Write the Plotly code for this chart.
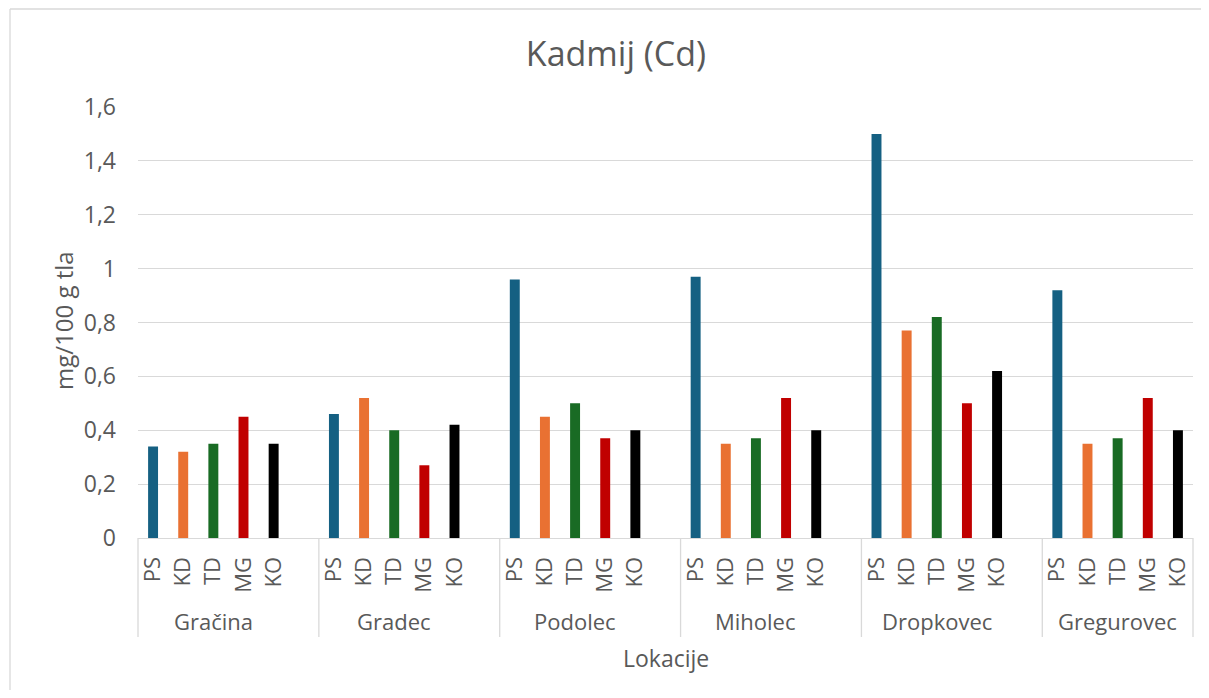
import plotly.graph_objects as go

# ---- data ----
locations = ["Gračina", "Gradec", "Podolec", "Miholec", "Dropkovec", "Gregurovec"]
codes = ["PS", "KD", "TD", "MG", "KO"]
ps = [0.34, 0.46, 0.96, 0.97, 1.50, 0.92]
kd = [0.32, 0.52, 0.45, 0.35, 0.77, 0.35]
td = [0.35, 0.40, 0.50, 0.37, 0.82, 0.37]
mg = [0.45, 0.27, 0.37, 0.52, 0.50, 0.52]
ko = [0.35, 0.42, 0.40, 0.40, 0.62, 0.40]
series = {"PS": ps, "KD": kd, "TD": td, "MG": mg, "KO": ko}
colors = {"PS": "#156082", "KD": "#E97132", "TD": "#196B24", "MG": "#C00000", "KO": "#000000"}
y_tick_vals = [0, 0.2, 0.4, 0.6, 0.8, 1.0, 1.2, 1.4, 1.6]

title_text = "Kadmij (Cd)"
x_title = "Lokacije"
y_title = "mg/100 g tla"

# ---- layout geometry (pixels, in screenshot coordinates) ----
OFF = 8  # default page body margin
W, H = 1209 - 2 * OFF, 698 - 2 * OFF  # keep the page free of scrollbars
PLOT_L, PLOT_R, PLOT_T, PLOT_B = 138, 1193, 107, 538  # screenshot px
L = PLOT_L - OFF
T = PLOT_T - OFF
PW = PLOT_R - PLOT_L
PH = PLOT_B - PLOT_T
R = W - L - PW
B = H - T - PH
SLOTS = len(locations) * 6 - 1  # 5 bars + 1 blank slot per group, no blank after last

def px_to_paper_x(px):
    return (px - PLOT_L) / PW

def px_to_paper_y(py):
    return (PLOT_B - py) / PH

FONT = "Open Sans"
TXT = "#595959"
GRID = "#d9d9d9"

fig = go.Figure()
for j, c in enumerate(codes):
    xs = [g * 6 + j for g in range(len(locations))]
    fig.add_trace(go.Bar(
        x=xs, y=series[c], width=0.33, name=c,
        marker=dict(color=colors[c], line=dict(width=0)),
        showlegend=False,
    ))

tickvals, ticktext = [], []
for g in range(len(locations)):
    for j, c in enumerate(codes):
        tickvals.append(g * 6 + j)
        ticktext.append(c)

annotations = []
for g, loc in enumerate(locations):
    annotations.append(dict(
        x=g * 6 + 2, xref="x", y=px_to_paper_y(621), yref="paper",
        text=loc, showarrow=False, xanchor="center", yanchor="middle",
        font=dict(family=FONT, size=22, color=TXT),
    ))
annotations.append(dict(
    x=0.5, xref="paper", y=px_to_paper_y(658), yref="paper",
    text=x_title, showarrow=False, xanchor="center", yanchor="middle",
    font=dict(family=FONT, size=23, color=TXT),
))
annotations.append(dict(
    x=px_to_paper_x(63), xref="paper", y=px_to_paper_y(321), yref="paper",
    text=y_title, showarrow=False, textangle=-90, xanchor="center", yanchor="middle",
    font=dict(family=FONT, size=24, color=TXT),
))

shapes = []
for b in range(len(locations) + 1):
    pos = min(b * 6 - 0.5, SLOTS - 0.5)
    xp = (pos + 0.5) / SLOTS
    shapes.append(dict(type="line", xref="paper", yref="paper",
                       x0=xp, x1=xp, y0=0, y1=px_to_paper_y(637),
                       line=dict(color=GRID, width=1.3)))
# outer chart border (left and top edges visible)
shapes.append(dict(type="line", xref="paper", yref="paper",
                   x0=px_to_paper_x(10), x1=px_to_paper_x(10),
                   y0=px_to_paper_y(9), y1=px_to_paper_y(720),
                   line=dict(color=GRID, width=1.3)))
shapes.append(dict(type="line", xref="paper", yref="paper",
                   x0=px_to_paper_x(10), x1=px_to_paper_x(1230),
                   y0=px_to_paper_y(9), y1=px_to_paper_y(9),
                   line=dict(color=GRID, width=1.3)))

fig.update_layout(
    width=W, height=H,
    margin=dict(l=L, r=R, t=T, b=B, autoexpand=False),
    paper_bgcolor="white", plot_bgcolor="white",
    separators=",.",
    barmode="overlay",
    title=dict(text=title_text, x=(616 - OFF) / W, xref="container", xanchor="center",
               y=1 - (54 - OFF) / H, yref="container", yanchor="middle",
               font=dict(family=FONT, size=34, color=TXT)),
    xaxis=dict(range=[-0.5, SLOTS - 0.5], tickmode="array", tickvals=tickvals, ticktext=ticktext,
               tickangle=-90, showgrid=False, zeroline=False, showline=True,
               linecolor=GRID, linewidth=1.3, ticks="", ticklabelstandoff=9,
               tickfont=dict(family=FONT, size=22, color=TXT), fixedrange=True),
    yaxis=dict(range=[0, 1.6], tickmode="array", tickvals=y_tick_vals,
               showgrid=True, gridcolor=GRID, gridwidth=1.3, zeroline=False,
               showline=False, ticks="", ticklabelstandoff=21,
               tickfont=dict(family=FONT, size=23, color=TXT), fixedrange=True),
    annotations=annotations,
    shapes=shapes,
    font=dict(family=FONT, color=TXT),
)

fig.write_html("out.html")
